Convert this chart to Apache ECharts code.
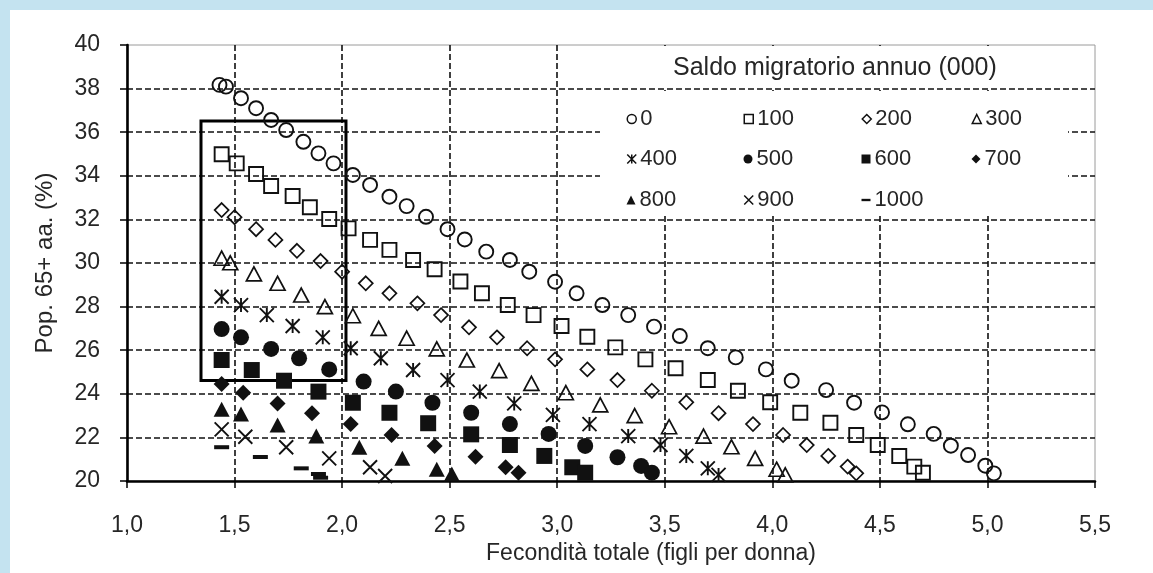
<!DOCTYPE html>
<html>
<head>
<meta charset="utf-8">
<script src="https://cdn.jsdelivr.net/npm/echarts@6/dist/echarts.min.js"></script>
<style>
html,body{margin:0;padding:0;background:#fff;}
#main{width:1153px;height:573px;}
</style>
</head>
<body>
<div id="main"></div>
<script>
// ---- data ----
const seriesNames = ['0','100','200','300','400','500','600','700','800','900','1000'];
const legendTitle = 'Saldo migratorio annuo (000)';
const xAxisName = 'Fecondità totale (figli per donna)';
const yAxisName = 'Pop. 65+ aa. (%)';
const xTicks = [1.0,1.5,2.0,2.5,3.0,3.5,4.0,4.5,5.0,5.5];
const yTicks = [20,22,24,26,28,30,32,34,36,38,40];

const s0 = [[1.43,38.17],[1.46,38.09],[1.53,37.56],[1.60,37.10],[1.67,36.56],[1.74,36.10],[1.82,35.56],[1.89,35.03],[1.96,34.57],[2.05,34.04],[2.13,33.58],[2.22,33.04],[2.30,32.61],[2.39,32.12],[2.49,31.55],[2.57,31.08],[2.67,30.52],[2.78,30.14],[2.87,29.60],[2.99,29.14],[3.09,28.61],[3.21,28.07],[3.33,27.61],[3.45,27.08],[3.57,26.65],[3.70,26.09],[3.83,25.67],[3.97,25.12],[4.09,24.60],[4.25,24.17],[4.38,23.59],[4.51,23.15],[4.63,22.60],[4.75,22.16],[4.83,21.62],[4.91,21.19],[4.99,20.70],[5.03,20.35]];
const s100 = [[1.44,34.99],[1.51,34.57],[1.60,34.08],[1.67,33.53],[1.77,33.07],[1.85,32.56],[1.94,32.02],[2.03,31.59],[2.13,31.06],[2.22,30.60],[2.33,30.14],[2.43,29.71],[2.55,29.15],[2.65,28.61],[2.77,28.07],[2.89,27.61],[3.02,27.11],[3.14,26.62],[3.27,26.13],[3.41,25.58],[3.55,25.17],[3.70,24.63],[3.84,24.14],[3.99,23.61],[4.13,23.13],[4.27,22.67],[4.39,22.11],[4.49,21.65],[4.59,21.15],[4.66,20.66],[4.70,20.38]];
const s200 = [[1.44,32.43],[1.50,32.10],[1.60,31.55],[1.69,31.06],[1.79,30.56],[1.90,30.09],[2.00,29.60],[2.11,29.07],[2.22,28.61],[2.35,28.15],[2.46,27.61],[2.59,27.05],[2.72,26.59],[2.86,26.09],[2.99,25.58],[3.14,25.12],[3.28,24.63],[3.44,24.14],[3.60,23.61],[3.75,23.11],[3.91,22.61],[4.05,22.11],[4.16,21.65],[4.26,21.15],[4.35,20.66],[4.39,20.35]];
const s300 = [[1.44,30.22],[1.48,30.01],[1.59,29.50],[1.70,29.07],[1.81,28.53],[1.92,28.00],[2.05,27.58],[2.17,27.00],[2.30,26.55],[2.44,26.06],[2.58,25.55],[2.73,25.06],[2.88,24.48],[3.04,24.05],[3.20,23.49],[3.36,23.00],[3.52,22.49],[3.68,22.06],[3.81,21.57],[3.92,21.04],[4.02,20.54],[4.06,20.28]];
const s400 = [[1.44,28.45],[1.53,28.07],[1.65,27.61],[1.77,27.11],[1.91,26.59],[2.04,26.09],[2.18,25.63],[2.33,25.09],[2.49,24.63],[2.64,24.10],[2.80,23.56],[2.98,23.03],[3.15,22.61],[3.33,22.06],[3.48,21.65],[3.60,21.15],[3.70,20.58],[3.75,20.28]];
const s500 = [[1.44,26.97],[1.53,26.59],[1.67,26.06],[1.80,25.63],[1.94,25.12],[2.10,24.56],[2.25,24.10],[2.42,23.59],[2.60,23.13],[2.78,22.61],[2.96,22.16],[3.13,21.61],[3.28,21.09],[3.39,20.69],[3.44,20.38]];
const s600 = [[1.44,25.55],[1.58,25.09],[1.73,24.60],[1.89,24.10],[2.05,23.59],[2.22,23.13],[2.40,22.65],[2.60,22.14],[2.78,21.65],[2.94,21.15],[3.07,20.63],[3.13,20.38]];
const s700 = [[1.44,24.45],[1.54,24.05],[1.70,23.56],[1.86,23.11],[2.04,22.61],[2.23,22.11],[2.43,21.61],[2.62,21.11],[2.76,20.63],[2.82,20.38]];
const s800 = [[1.44,23.29],[1.53,23.07],[1.70,22.57],[1.88,22.06],[2.08,21.55],[2.28,21.04],[2.44,20.54],[2.51,20.32]];
const s900 = [[1.44,22.37],[1.55,22.03],[1.74,21.55],[1.94,21.04],[2.13,20.63],[2.20,20.23]];
const s1000 = [[1.44,21.55],[1.62,21.10],[1.81,20.58],[1.89,20.32],[1.90,20.15]];
const seriesData = [s0,s100,s200,s300,s400,s500,s600,s700,s800,s900,s1000];

// highlighted box (data coordinates)
const boxX = [1.344, 2.018];
const boxY = [24.61, 36.51];

// ---- styles ----
const FONT = "'Liberation Sans', Arial, sans-serif";
const INK = '#111';
const hollow = 'rgba(0,0,0,0)';
const PATH_STAR = 'path://M0,0 L10,10 M10,0 L0,10 M5,0 L5,10';
const PATH_X = 'path://M0,0 L10,10 M10,0 L0,10';
const styles = [
  {symbol:'circle', size:14, fill:hollow, bw:1.9},
  {symbol:'rect', size:14, fill:hollow, bw:1.9},
  {symbol:'diamond', size:14, fill:hollow, bw:1.7},
  {symbol:'triangle', size:[15,14], fill:hollow, bw:1.7},
  {symbol:PATH_STAR, size:14, fill:hollow, bw:1.9},
  {symbol:'circle', size:16, fill:INK, bw:0},
  {symbol:'rect', size:16, fill:INK, bw:0},
  {symbol:'diamond', size:16, fill:INK, bw:0},
  {symbol:'triangle', size:[16,15], fill:INK, bw:0},
  {symbol:PATH_X, size:14, fill:hollow, bw:1.9},
  {symbol:'rect', size:[15,4], fill:INK, bw:0}
];
// legend item layout (page pixels: marker centre x, row centre y)
const legendPos = [[631,120],[748,120],[866,120],[976,120],[631,160],[748,160],[866,160],[976,160],[631,201],[748,201],[866,201]];

const series = seriesNames.map((n,i)=>{
  const st = styles[i];
  const s = {
    name:n, type:'scatter', data:seriesData[i],
    symbol:st.symbol, symbolSize:st.size,
    itemStyle:{color:st.fill, borderColor:INK, borderWidth:st.bw, opacity:1},
    emphasis:{disabled:true}, z:3
  };
  if(i===0){
    s.markArea = {silent:true, itemStyle:{color:'rgba(0,0,0,0)', borderColor:'#000', borderWidth:3},
      data:[[{xAxis:boxX[0], yAxis:boxY[1]},{xAxis:boxX[1], yAxis:boxY[0]}]]};
  }
  return s;
});

const legends = seriesNames.map((n,i)=>{
  const [cx,cy] = legendPos[i];
  const dash = i===10;
  return {
    data:[dash ? {name:n, icon:'path://M0,0 L10,0 L10,2.6 L0,2.6 Z'} : {name:n}],
    left: cx-4.5, top: cy-12, padding:0, itemGap:0,
    itemWidth: 9, itemHeight: 9, itemStyle:{borderWidth: (i<5||i===9)?1.5:0},
    textStyle:{fontFamily:FONT, fontSize:22, color:'#262626', padding:[0,0,0,-1]},
    selectedMode:false, z:10
  };
});

const chart = echarts.init(document.getElementById('main'), null, {renderer:'canvas'});
chart.setOption({
  backgroundColor:'#fff',
  animation:false,
  textStyle:{fontFamily:FONT},
  title:{text:legendTitle, left:673, top:56, padding:0, z:10,
    textStyle:{fontFamily:FONT, fontSize:25, fontWeight:'normal', color:'#262626'}},
  legend: legends,
  graphic:{elements:[
    {type:'rect', shape:{x:0,y:0,width:1153,height:10}, style:{fill:'#c4e3f0'}, z:20, silent:true},
    {type:'rect', shape:{x:0,y:0,width:10,height:573}, style:{fill:'#c4e3f0'}, z:20, silent:true},
    {type:'rect', shape:{x:664,y:46,width:430,height:41}, style:{fill:'#fff'}, z:5, silent:true},
    {type:'rect', shape:{x:600,y:91,width:468,height:125}, style:{fill:'#fff'}, z:5, silent:true}
  ]},
  grid:{left:127, right:58, top:45, bottom:92, show:true, borderColor:'#9a9a9a', borderWidth:1, backgroundColor:'rgba(0,0,0,0)'},
  xAxis:{
    type:'value', min:xTicks[0], max:xTicks[xTicks.length-1], interval:0.5,
    name:xAxisName, nameLocation:'middle', nameGap:55,
    nameTextStyle:{fontFamily:FONT, fontSize:23, color:'#262626', padding:[0,0,0,80]},
    axisLine:{onZero:false, lineStyle:{color:'#000', width:2.6}},
    axisTick:{show:true, inside:false, length:7, lineStyle:{color:'#000', width:1.5}},
    axisLabel:{margin:33, fontFamily:FONT, fontSize:23, color:'#262626',
      formatter:v=>v.toFixed(1).replace('.',',')},
    splitLine:{show:true, showMinLine:false, showMaxLine:false, lineStyle:{color:'#111', width:1.6, type:[6,3]}}
  },
  yAxis:{
    type:'value', min:yTicks[0], max:yTicks[yTicks.length-1], interval:2,
    name:yAxisName, nameLocation:'middle', nameGap:70,
    nameTextStyle:{fontFamily:FONT, fontSize:24, color:'#262626'},
    axisLine:{onZero:false, lineStyle:{color:'#000', width:2.6}},
    axisTick:{show:true, inside:false, length:7, lineStyle:{color:'#000', width:1.5}},
    axisLabel:{margin:27, fontFamily:FONT, fontSize:23, color:'#262626'},
    splitLine:{show:true, showMinLine:false, showMaxLine:false, lineStyle:{color:'#111', width:1.6, type:[6,3]}}
  },
  series: series
});
</script>
</body>
</html>
